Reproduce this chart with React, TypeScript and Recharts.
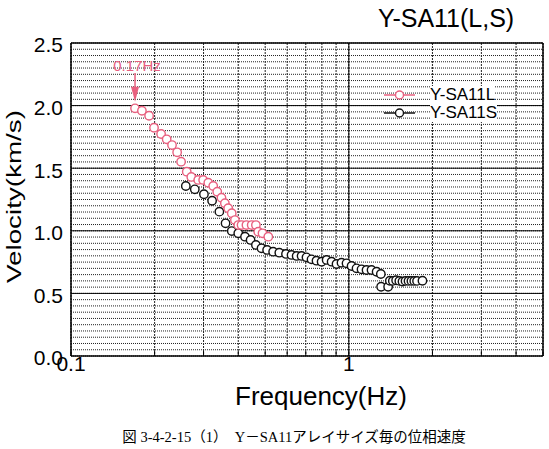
import React from 'react';
import {
  ScatterChart,
  Scatter,
  XAxis,
  YAxis,
  CartesianGrid,
  ReferenceLine,
  ReferenceDot,
  Legend,
  Label,
} from 'recharts';

// ---- data ----
const lFreq = [0.170, 0.180, 0.191, 0.199, 0.211, 0.221, 0.231, 0.241, 0.249, 0.261, 0.271, 0.287, 0.299, 0.312, 0.325, 0.336, 0.348, 0.358, 0.368, 0.379, 0.389, 0.400, 0.411, 0.428, 0.447, 0.463, 0.472, 0.489, 0.513];
const lVel = [1.978, 1.959, 1.919, 1.823, 1.773, 1.731, 1.685, 1.627, 1.552, 1.472, 1.430, 1.406, 1.406, 1.384, 1.358, 1.312, 1.264, 1.220, 1.180, 1.140, 1.086, 1.046, 1.046, 1.046, 1.046, 1.046, 0.993, 0.980, 0.953];

const sFreq = [0.259, 0.279, 0.301, 0.322, 0.342, 0.360, 0.379, 0.400, 0.423, 0.443, 0.463, 0.485, 0.508, 0.534, 0.562, 0.594, 0.622, 0.649, 0.676, 0.704, 0.734, 0.765, 0.798, 0.832, 0.867, 0.903, 0.941, 0.981, 1.023, 1.066, 1.111, 1.158, 1.207, 1.259, 1.304, 1.307, 1.385, 1.405, 1.44, 1.48, 1.52, 1.56, 1.60, 1.64, 1.68, 1.72, 1.76, 1.841];
const sVel = [1.358, 1.331, 1.292, 1.240, 1.153, 1.060, 0.998, 0.980, 0.953, 0.927, 0.887, 0.860, 0.847, 0.833, 0.825, 0.815, 0.807, 0.799, 0.799, 0.788, 0.772, 0.761, 0.753, 0.767, 0.753, 0.735, 0.745, 0.740, 0.719, 0.700, 0.692, 0.687, 0.687, 0.673, 0.655, 0.553, 0.553, 0.601, 0.600, 0.605, 0.600, 0.595, 0.600, 0.600, 0.600, 0.600, 0.600, 0.601];

const seriesNames = ['Y-SA11L', 'Y-SA11S'];
const seriesColors = ['#e8607f', '#111111'];

const xTicks = [0.1, 0.2, 0.3, 0.4, 0.5, 0.6, 0.7, 0.8, 0.9, 1, 2, 3, 4, 5];
const xLabelled = [0.1, 1];
const xMajor = [1];
const yTicks = Array.from({ length: 51 }, (_, i) => Math.round(i * 5) / 100);
const yMajor = [0.5, 1.0, 1.5, 2.0];

const annoFreq = 0.17;
const annoTextVel = 2.28;
const annoShaftTop = 2.26;
const annoShaftBottom = 2.14;
const annoTipVel = 2.03;

const chartTitle = 'Y-SA11(L,S)';
const xTitle = 'Frequency(Hz)';
const yTitle = 'Velocity(km/s)';
const caption = '図 3-4-2-15（1）　Y－SA11アレイサイズ毎の位相速度';

const lData = lFreq.map((f, i) => ({ f, v: lVel[i] }));
const sData = sFreq.map((f, i) => ({ f, v: sVel[i] }));

const fmtX = (v: number) => (xLabelled.some((t) => Math.abs(t - v) < 1e-9) ? String(v) : '');
const fmtY = (v: number) => (Math.abs(v * 2 - Math.round(v * 2)) < 1e-6 ? v.toFixed(1) : '');

const makeShape = (color: string) => (p: any) => (
  <circle cx={p.cx} cy={p.cy} r={4.2} fill="#fff" stroke={color} strokeWidth={1.4} />
);

const renderLegend = () => (
  <div style={{ width: 130 }}>
    {seriesNames.map((n, i) => (
      <div key={n} style={{ display: 'flex', alignItems: 'center', height: 18 }}>
        <svg width={34} height={18} style={{ display: 'block' }}>
          <line x1={2} y1={9} x2={33} y2={9} stroke={seriesColors[i]} strokeWidth={1.5} />
          <circle cx={17.5} cy={9} r={4} fill="#fff" stroke={seriesColors[i]} strokeWidth={1.4} />
        </svg>
        <span style={{ marginLeft: 14, fontSize: 17, lineHeight: '18px', background: '#fff', color: '#000' }}>{n}</span>
      </div>
    ))}
  </div>
);

const FONT = '"Liberation Sans", Arial, sans-serif';

export default function App() {
  return (
    <div style={{ position: 'absolute', left: 0, top: 0, width: 549, height: 449, background: '#fff', fontFamily: FONT, overflow: 'hidden' }}>
      <ScatterChart width={549} height={449} margin={{ top: 43, right: 6, bottom: 0, left: 0 }}>
        <CartesianGrid horizontal vertical={false} stroke="#222" strokeDasharray="1 1" />
        <CartesianGrid horizontal={false} vertical stroke="#222" strokeDasharray="2 1" />
        {yMajor.map((y) => (
          <ReferenceLine key={'y' + y} y={y} stroke="#000" strokeWidth={1} />
        ))}
        {xMajor.map((x) => (
          <ReferenceLine key={'x' + x} x={x} stroke="#000" strokeWidth={1} />
        ))}
        <ReferenceLine y={2.5} stroke="#000" strokeWidth={1.5} />
        <ReferenceLine x={5} stroke="#000" strokeWidth={1.5} />
        <XAxis
          dataKey="f"
          type="number"
          scale="log"
          domain={[0.1, 5]}
          ticks={xTicks}
          interval={0}
          allowDataOverflow
          height={93}
          tickSize={-5}
          tickMargin={5}
          tick={{ fontSize: 21, fill: '#000' }}
          tickFormatter={fmtX}
          axisLine={{ stroke: '#000', strokeWidth: 1.5 }}
          tickLine={{ stroke: '#000' }}
        >
          <Label
            content={(p: any) => {
              const vb = p.viewBox || { x: 71, y: 356, width: 472 };
              return (
                <text x={vb.x + vb.width / 2 + 14} y={vb.y + 49} textAnchor="middle" fontSize={26} fill="#000">
                  {xTitle}
                </text>
              );
            }}
          />
        </XAxis>
        <XAxis
          xAxisId="top"
          orientation="top"
          dataKey="f"
          type="number"
          scale="log"
          domain={[0.1, 5]}
          ticks={xTicks}
          interval={0}
          allowDataOverflow
          height={0}
          tickSize={-5}
          tick={false}
          axisLine={false}
          tickLine={{ stroke: '#000' }}
        />
        <YAxis
          dataKey="v"
          type="number"
          domain={[0, 2.5]}
          ticks={yTicks}
          interval={0}
          allowDataOverflow
          width={71}
          tickLine={false}
          tickSize={6}
          tickMargin={2}
          tick={{ fontSize: 21, fill: '#000', dy: 2 }}
          tickFormatter={fmtY}
          axisLine={{ stroke: '#000', strokeWidth: 1.5 }}
        >
          <Label
            content={(p: any) => {
              const vb = p.viewBox || { x: 0, y: 43, height: 313 };
              const cx = 21;
              const cy = vb.y + vb.height / 2 - 3;
              return (
                <text
                  x={cx}
                  y={cy}
                  transform={`rotate(-90 ${cx} ${cy})`}
                  textAnchor="middle"
                  fontSize={21}
                  textLength={173}
                  lengthAdjust="spacingAndGlyphs"
                  fill="#000"
                >
                  {yTitle}
                </text>
              );
            }}
          />
        </YAxis>
        <Scatter name={seriesNames[1]} data={sData} shape={makeShape(seriesColors[1])} isAnimationActive={false} />
        <Scatter name={seriesNames[0]} data={lData} shape={makeShape(seriesColors[0])} isAnimationActive={false} />
        <ReferenceLine
          segment={[
            { x: annoFreq, y: annoShaftTop },
            { x: annoFreq, y: annoShaftBottom },
          ]}
          stroke={seriesColors[0]}
          strokeWidth={1.5}
        />
        <ReferenceDot
          x={annoFreq}
          y={annoTipVel}
          r={0}
          shape={(p: any) => (
            <polygon
              points={`${p.cx - 4},${p.cy - 15} ${p.cx + 4},${p.cy - 15} ${p.cx},${p.cy}`}
              fill={seriesColors[0]}
            />
          )}
        />
        <ReferenceDot
          x={annoFreq}
          y={annoTextVel}
          r={0}
          shape={(p: any) => (
            <text x={p.cx + 2} y={p.cy} textAnchor="middle" fontSize={15} fill={seriesColors[0]}>
              {annoFreq + 'Hz'}
            </text>
          )}
        />
        <Legend
          layout="vertical"
          align="center"
          verticalAlign="middle"
          content={renderLegend}
          wrapperStyle={{ position: 'absolute', left: 382, top: 86, width: 130, height: 36 }}
        />
      </ScatterChart>
      <div style={{ position: 'absolute', left: 378, top: 6, fontSize: 25, lineHeight: '25px', color: '#000', whiteSpace: 'nowrap' }}>
        {chartTitle}
      </div>
      <div
        style={{
          position: 'absolute',
          left: 0,
          top: 429,
          width: 588,
          textAlign: 'center',
          fontSize: 14.5,
          lineHeight: '16px',
          color: '#000',
          fontFamily: '"Liberation Serif", "Noto Sans CJK JP", serif',
          whiteSpace: 'nowrap',
        }}
      >
        {caption}
      </div>
    </div>
  );
}
